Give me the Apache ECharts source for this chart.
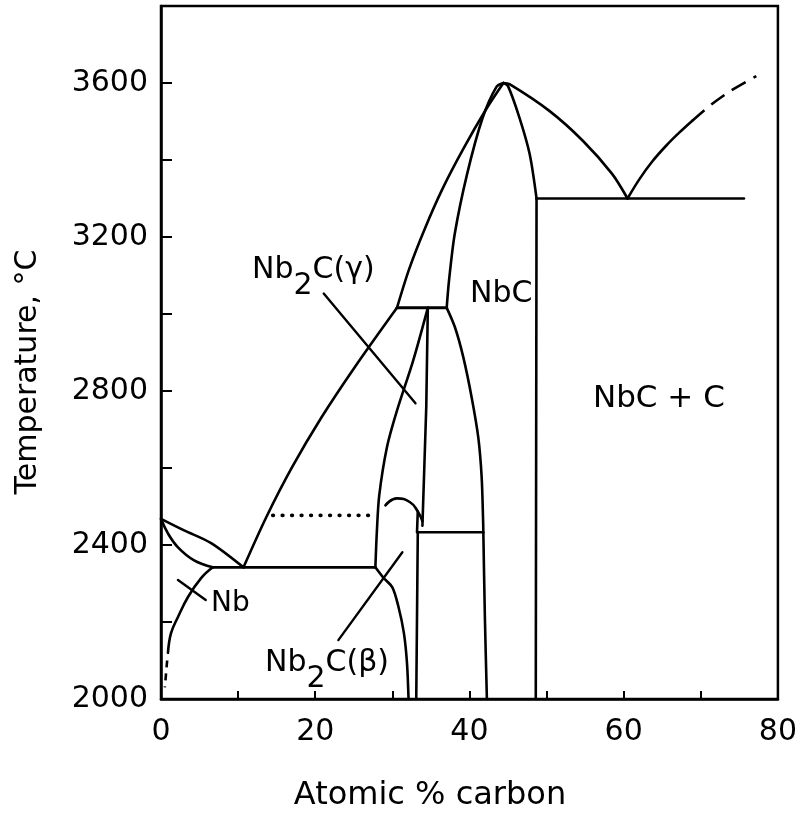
<!DOCTYPE html>
<html><head><meta charset="utf-8">
<script src="https://cdn.jsdelivr.net/npm/echarts@6/dist/echarts.min.js"></script>
<style>html,body{margin:0;padding:0;background:#fff}#c{width:800px;height:819px}</style>
</head><body><div id="c"></div>
<script>
// Axis tick labels
const xTickLabels = [0, 20, 40, 60, 80];
const yTickLabels = [2000, 2400, 2800, 3200, 3600];

// Phase boundaries: [atomic % C, temperature °C]
const nbLiquidus = [[0,2468],[3.0,2438],[6.5,2405],[10.7,2342]];
const nbSolidus = [[0,2468],[0.9,2430],[2.2,2394],[4.3,2360],[6.7,2342]];
const nbSolvus = [[6.7,2342],[5.2,2314],[3.5,2265],[2.2,2213],[1.3,2171],[0.9,2120]];
const nbSolvusDashed = [[0.8,2100],[0.5,2030]];
const eutecticNb = [[6.7,2342],[27.8,2342]];
const liquidusLow = [[10.7,2342],[13.65,2472],[17.0,2602],[20.8,2731],[25.1,2861],[30.6,3016]];
const liquidusHigh = [[30.6,3016],[32.2,3118],[34.2,3221],[36.5,3325],[39.2,3429],[42.2,3533],[44.4,3600]];
const peritectic = [[30.6,3016],[37.05,3016]];
const nbcSolidusLeft = [[37.05,3016],[37.35,3087],[38.1,3209],[39.7,3364],[41.7,3509],[43.5,3590],[44.4,3600]];
const nbcSolidusRight = [[44.4,3600],[45.0,3592],[46.5,3509],[47.8,3416],[48.7,3300]];
const nbcRightEdge = [[48.7,3300],[48.6,2000]];
const liquidusRight = [[44.4,3600],[45.2,3597],[50.4,3527],[54.7,3450],[58.5,3364],[60.5,3300]];
const eutecticC = [[48.7,3300],[75.6,3300]];
const graphiteLiquidus = [[60.5,3300],[62.0,3349],[63.7,3396],[65.5,3437],[67.2,3471],[68.9,3502]];
const graphiteLiquidusDashed = [[68.9,3502],[71.3,3543],[73.9,3580],[77.2,3618]];
const nb2cLeft = [[34.6,3016],[32.7,2879],[30.6,2749],[29.3,2654],[28.3,2529],[28.0,2438],[27.8,2342]];
const nb2cRight = [[34.6,3016],[34.4,2760],[33.9,2450]];
const nb2cDome = [[29.1,2503],[30.6,2521],[32.3,2511],[33.3,2487],[33.9,2462]];
const nb2cDomeStem = [[33.3,2487],[33.2,2433]];
const dottedLine = [[14.5,2477],[27.6,2477]];
const lowHoriz = [[33.3,2433],[41.8,2433]];
const nb2cLowRight = [[33.3,2433],[33.1,2000]];
const nb2cBetaSolvus = [[27.8,2342],[28.8,2316],[30.0,2290],[30.8,2239],[31.5,2171],[31.9,2093],[32.1,2000]];
const nbcLeft = [[37.05,3016],[38.13,2965],[39.2,2888],[40.28,2784],[41.14,2680],[41.58,2577],[41.78,2456],[41.8,2433],[42.0,2213],[42.26,2000]];

// Label pointer lines
const pointerGamma = [[21.1,3053],[33.0,2768]];
const pointerNb = [[2.2,2309],[5.8,2257]];
const pointerBeta = [[23.0,2153],[31.3,2381]];

const FONT = 'DejaVu Sans';
function ln(data, opt) {
  opt = opt || {};
  return {
    type: 'line', data: data, symbol: 'none', showSymbol: false, animation: false,
    smooth: opt.smooth || false, silent: true,
    lineStyle: { color: '#000', width: opt.width || 2.6, type: opt.type || 'solid', cap: opt.cap || 'round', join: 'round' }
  };
}
function subLabel(main1, sub, main2) {
  return {
    text: '{m|' + main1 + '}{s|' + sub + '}{m|' + main2 + '}', fill: '#000',
    rich: { m: { fontSize: 30, fontFamily: FONT, lineHeight: 34 },
            s: { fontSize: 30, fontFamily: FONT, lineHeight: 34, padding: [32, 0, 0, 0] } }
  };
}

const chart = echarts.init(document.getElementById('c'), null, { renderer: 'canvas' });
chart.setOption({
  backgroundColor: '#fff',
  animation: false,
  grid: { left: 161, right: 21, top: 6, bottom: 120, show: true, borderColor: '#000', borderWidth: 2.5, backgroundColor: 'transparent' },
  xAxis: {
    type: 'value', min: 0, max: 80, interval: 10,
    axisLine: { show: true, onZero: false, lineStyle: { color: '#000', width: 2.5 } },
    axisTick: { show: true, inside: true, length: 8, lineStyle: { color: '#000', width: 2 } },
    splitLine: { show: false },
    axisLabel: { margin: 18, color: '#000', fontSize: 30, fontFamily: FONT,
      formatter: v => xTickLabels.indexOf(v) >= 0 ? String(v) : '' }
  },
  yAxis: {
    type: 'value', min: 2000, max: 3800, interval: 200,
    axisLine: { show: true, onZero: false, lineStyle: { color: '#000', width: 2.5 } },
    axisTick: { show: true, inside: true, length: 11, lineStyle: { color: '#000', width: 2 } },
    splitLine: { show: false },
    axisLabel: { margin: 13, color: '#000', fontSize: 30, fontFamily: FONT,
      formatter: v => yTickLabels.indexOf(v) >= 0 ? String(v) : '' }
  },
  series: [
    ln(nbLiquidus, { smooth: 0.3 }),
    ln(nbSolidus, { smooth: 0.4 }),
    ln(nbSolvus, { smooth: 0.4 }),
    ln(nbSolvusDashed, { type: [7, 6], cap: 'butt' }),
    ln(eutecticNb),
    ln(liquidusLow, { smooth: 0.3 }),
    ln(liquidusHigh, { smooth: 0.3 }),
    ln(peritectic, { width: 3 }),
    ln(nbcSolidusLeft, { smooth: 0.3 }),
    ln(nbcSolidusRight, { smooth: 0.3 }),
    ln(nbcRightEdge),
    ln(liquidusRight, { smooth: 0.3 }),
    ln(eutecticC),
    ln(graphiteLiquidus, { smooth: 0.3 }),
    ln(graphiteLiquidusDashed, { smooth: 0.3, type: [16, 9], cap: 'butt' }),
    ln(nb2cLeft, { smooth: 0.3 }),
    ln(nb2cRight),
    ln(nb2cDome, { smooth: 0.5 }),
    ln(nb2cDomeStem),
    ln(dottedLine, { type: [0.5, 9], width: 3.8, cap: 'round' }),
    ln(lowHoriz),
    ln(nb2cLowRight),
    ln(nb2cBetaSolvus, { smooth: 0.3 }),
    ln(nbcLeft, { smooth: 0.3 }),
    ln(pointerGamma, { width: 2.4 }),
    ln(pointerNb, { width: 2.4 }),
    ln(pointerBeta, { width: 2.4 })
  ],
  graphic: [
    { type: 'text', left: 252, top: 239, silent: true, style: subLabel('Nb', '2', 'C(γ)') },
    { type: 'text', left: 470, top: 279, silent: true, style: { text: 'NbC', fill: '#000', fontSize: 30, fontFamily: FONT } },
    { type: 'text', left: 593, top: 383, silent: true, style: { text: 'NbC + C', fill: '#000', fontSize: 31, fontFamily: FONT } },
    { type: 'text', left: 211, top: 590, silent: true, style: { text: 'Nb', fill: '#000', fontSize: 28, fontFamily: FONT } },
    { type: 'text', left: 265, top: 632, silent: true, style: subLabel('Nb', '2', 'C(β)') },
    { type: 'text', x: 28, y: 372, rotation: Math.PI / 2, silent: true, style: {
      text: 'Temperature, °C', fill: '#000', fontSize: 30, fontFamily: FONT, align: 'center', verticalAlign: 'middle' } },
    { type: 'text', x: 430, y: 796, silent: true, style: {
      text: 'Atomic % carbon', fill: '#000', fontSize: 32, fontFamily: FONT, align: 'center', verticalAlign: 'middle' } }
  ]
});
</script>
</body></html>
